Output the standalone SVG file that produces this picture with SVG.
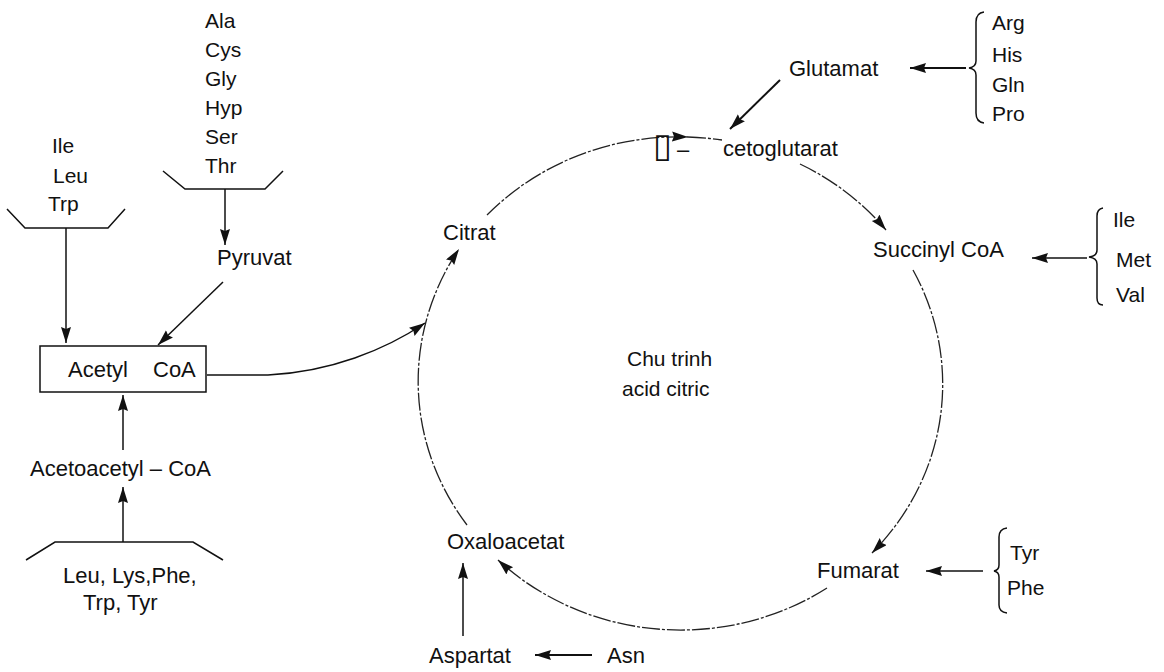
<svg xmlns="http://www.w3.org/2000/svg" width="1164" height="672" viewBox="0 0 1164 672">
<style>
text{font-family:"Liberation Sans",Arial,sans-serif;font-size:22px;fill:#111}
.aa{font-size:21px}
.ln{fill:none;stroke:#111;stroke-width:1.5}
.th{stroke-width:2}
.arc{fill:none;stroke:#222;stroke-width:1.3;stroke-dasharray:18 2 3 2}
.shape{fill:none;stroke:#111;stroke-width:1.5}
</style>
<defs>
<marker id="ah" markerUnits="userSpaceOnUse" markerWidth="17" markerHeight="12" refX="16" refY="5" orient="auto"><path d="M0,0 L16,5 L0,10 L2,5 z" fill="#111"/></marker>
</defs>
<rect width="1164" height="672" fill="#fff"/>
<g id="connectors">
<path class="arc" d="M487,215 A262,247 0 0 1 688,137" marker-end="url(#ah)"/>
<path class="arc" d="M688,137 A262,247 0 0 1 722,140"/>
<path class="arc" d="M800,164 A262,247 0 0 1 886,230" marker-end="url(#ah)"/>
<path class="arc" d="M913,270 A262,247 0 0 1 872,553" marker-end="url(#ah)"/>
<path class="arc" d="M827,588 A262,247 0 0 1 498,560" marker-end="url(#ah)"/>
<path class="arc" d="M467,525 A262,247 0 0 1 459,249" marker-end="url(#ah)"/>
<path class="ln" d="M207,375 H268 C330,372 385,350 425,323" marker-end="url(#ah)"/>
<path class="ln" d="M66,228 L66,343" marker-end="url(#ah)"/>
<path class="ln" d="M225,189 L225,245" marker-end="url(#ah)"/>
<path class="ln" d="M223,282 L158,345" marker-end="url(#ah)"/>
<path class="ln" d="M123,450 L123,395" marker-end="url(#ah)"/>
<path class="ln" d="M123,542 L123,487" marker-end="url(#ah)"/>
<path class="ln th" d="M780,80 L730,129" marker-end="url(#ah)"/>
<path class="ln th" d="M966,68 L910,68" marker-end="url(#ah)"/>
<path class="ln" d="M1087,258 L1032,258" marker-end="url(#ah)"/>
<path class="ln" d="M983,571 L926,571" marker-end="url(#ah)"/>
<path class="ln" d="M463,636 L463,563" marker-end="url(#ah)"/>
<path class="ln th" d="M592,655 L535,655" marker-end="url(#ah)"/>
</g>
<g id="group-ala">
<text class="aa" x="205" y="28">Ala</text>
<text class="aa" x="205" y="57">Cys</text>
<text class="aa" x="205" y="86">Gly</text>
<text class="aa" x="205" y="115">Hyp</text>
<text class="aa" x="205" y="144">Ser</text>
<text class="aa" x="205" y="173">Thr</text>
<path class="shape" d="M163,171 L185,189 L265,189 L283,171"/>
</g>
<g id="group-ile">
<text class="aa" x="52" y="153">Ile</text>
<text class="aa" x="53" y="183">Leu</text>
<text class="aa" x="48" y="211">Trp</text>
<path class="shape" d="M7,209 L25,228 L108,228 L125,209"/>
</g>
<g id="pyruvat"><text x="217" y="265">Pyruvat</text></g>
<g id="acetyl-coa">
<rect class="shape" x="40" y="346" width="166" height="46"/>
<text x="68" y="377">Acetyl</text>
<text x="153" y="377">CoA</text>
</g>
<g id="acetoacetyl-coa"><text x="30" y="476">Acetoacetyl – CoA</text></g>
<g id="group-leu">
<path class="shape" d="M26,560 L55,542 L193,542 L223,560"/>
<text x="63" y="583">Leu, Lys,Phe,</text>
<text x="83" y="610">Trp, Tyr</text>
</g>
<g id="glutamat"><text x="789" y="76">Glutamat</text></g>
<g id="group-arg">
<path class="shape" d="M984,12 Q976,13 976,22 L976,61 Q976,67 969,68 Q976,69 976,75 L976,113 Q976,122 984,123"/>
<text class="aa" x="992" y="30">Arg</text>
<text class="aa" x="992" y="62">His</text>
<text class="aa" x="992" y="92">Gln</text>
<text class="aa" x="992" y="121">Pro</text>
</g>
<g id="cetoglutarat">
<text x="653" y="157" style="font-family:'DejaVu Sans',sans-serif;font-size:34px">▯</text>
<text x="677" y="157">–</text>
<text x="723" y="156">cetoglutarat</text>
</g>
<g id="citrat"><text x="443" y="240">Citrat</text></g>
<g id="succinyl-coa"><text x="873" y="257">Succinyl CoA</text></g>
<g id="group-ile2">
<path class="shape" d="M1103,208 Q1097,209 1097,216 L1097,250 Q1097,256 1089,257 Q1097,258 1097,264 L1097,298 Q1097,305 1103,305"/>
<text class="aa" x="1113" y="227">Ile</text>
<text class="aa" x="1116" y="267">Met</text>
<text class="aa" x="1116" y="302">Val</text>
</g>
<g id="cycle-label">
<text class="aa" x="627" y="366">Chu trinh</text>
<text class="aa" x="622" y="396">acid citric</text>
</g>
<g id="fumarat"><text x="817" y="578">Fumarat</text></g>
<g id="group-tyr">
<path class="shape" d="M1007,528 Q999,529 999,537 L999,565 Q999,570 994,571 Q999,572 999,577 L999,605 Q999,612 1007,613"/>
<text class="aa" x="1010" y="560">Tyr</text>
<text class="aa" x="1007" y="595">Phe</text>
</g>
<g id="oxaloacetat"><text x="447" y="549">Oxaloacetat</text></g>
<g id="aspartat"><text x="429" y="663">Aspartat</text></g>
<g id="asn"><text x="607" y="663">Asn</text></g>
</svg>
